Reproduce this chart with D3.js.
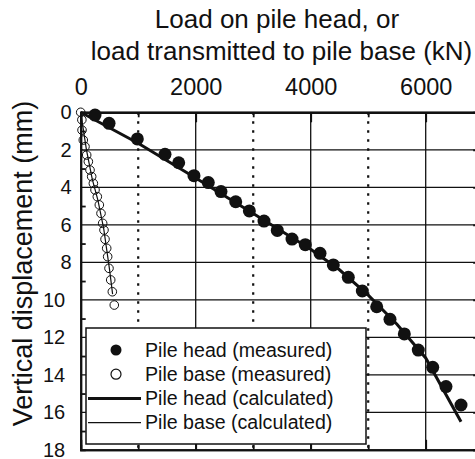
<!DOCTYPE html>
<html>
<head>
<meta charset="utf-8">
<script src="https://cdn.jsdelivr.net/npm/d3@7"></script>
<style>
  body { margin: 0; background: #fff; }
  svg { display: block; }
  text { font-family: "Liberation Sans", Arial, sans-serif; fill: #111; }
</style>
</head>
<body>
<svg width="475" height="459"></svg>
<script>
// measured pile head
const headLoad = [249,493,985,1466,1704,1970,2219,2440,2696,2933,3188,3419,3675,3906,4162,4393,4654,4898,5148,5379,5628,5871,6122,6353,6614]
const headDisp = [0.15,0.59,1.42,2.24,2.69,3.38,3.75,4.23,4.77,5.26,5.80,6.30,6.76,7.06,7.52,8.14,8.80,9.53,10.37,11.04,11.82,12.68,13.60,14.63,15.61]
// measured pile base
const baseLoad = [0,20,23,45,75,104,133,162,191,220,249,289,324,353,382,405,423,452,469,492,522,550,584]
const baseDisp = [0,0.4,0.95,1.48,1.83,2.28,2.63,3.08,3.43,3.79,4.14,4.5,4.94,5.39,5.92,6.28,6.77,7.25,7.7,8.32,8.94,9.57,10.28]
// calculated curves
const calcHeadLoad = [0,1000,2000,3000,4000,4500,5000,5500,6000,6614]
const calcHeadDisp = [0,1.65,3.5,5.4,7.3,8.4,9.75,11.3,13.1,16.5]
const calcBaseLoad = [0,100,200,300,400,500,555]
const calcBaseDisp = [0,2.0,3.55,4.7,6.2,8.35,9.7]

const xTicks = [0,2000,4000,6000]
const xMinor = [1000,3000,5000]
const yTicks = [0,2,4,6,8,10,12,14,16,18]
const yMinor = [1,3,5,7,9,11,13,15,17]
const legendItems = ["Pile head (measured)","Pile base (measured)","Pile head (calculated)","Pile base (calculated)"]

const svg = d3.select("svg")
const x = d3.scaleLinear().domain([0,7000]).range([80.7,483.2])
const y = d3.scaleLinear().domain([0,18]).range([112.3,449.8])
const [x0,x1] = x.range(), [y0,y1] = y.range()

// grid
const grid = svg.append("g").attr("stroke","#111").attr("fill","none")
grid.selectAll(".hg").data(yTicks.filter(d=>d>0 && d<18)).join("line")
  .attr("x1",x0).attr("x2",x1).attr("y1",d=>y(d)).attr("y2",d=>y(d)).attr("stroke-width",1.3)
grid.selectAll(".vg").data(xTicks.filter(d=>d>0)).join("line")
  .attr("x1",d=>x(d)).attr("x2",d=>x(d)).attr("y1",y0).attr("y2",y1).attr("stroke-width",1.3)
grid.selectAll(".vd").data(xMinor).join("line")
  .attr("x1",d=>x(d)).attr("x2",d=>x(d)).attr("y1",y0).attr("y2",y1)
  .attr("stroke-width",2.2).attr("stroke-dasharray","2.5,6.5")

// axes frame + ticks
const axes = svg.append("g")
const topLabels = axes.append("g").attr("transform",`translate(0,${y0})`)
  .call(d3.axisTop(x).tickValues(xTicks).tickSize(0).tickPadding(17.5).tickFormat(d3.format("d")))
topLabels.attr("font-size",23.5)
axes.append("g").attr("transform",`translate(0,${y0})`)
  .call(d3.axisBottom(x).tickValues(xTicks).tickSize(10).tickFormat(""))
axes.append("g").attr("transform",`translate(0,${y0})`)
  .call(d3.axisBottom(x).tickValues(xMinor).tickSize(5).tickFormat(""))
axes.append("g").attr("transform",`translate(0,${y1})`)
  .call(d3.axisTop(x).tickValues(xTicks).tickSize(10).tickFormat(""))
axes.append("g").attr("transform",`translate(0,${y1})`)
  .call(d3.axisTop(x).tickValues(xMinor).tickSize(5).tickFormat(""))
const leftLabels = axes.append("g").attr("transform",`translate(${x0},0)`)
  .call(d3.axisLeft(y).tickValues(yTicks).tickSize(0).tickPadding(9))
leftLabels.attr("font-size",20)
leftLabels.selectAll("text").attr("dx", d => d>=10 ? -6.5 : 0)
axes.append("g").attr("transform",`translate(${x0},0)`)
  .call(d3.axisRight(y).tickValues(yMinor).tickSize(5).tickFormat(""))
axes.append("g").attr("transform",`translate(${x1},0)`)
  .call(d3.axisLeft(y).tickValues(yTicks).tickSize(10).tickFormat(""))
axes.selectAll("g").attr("font-family",'"Liberation Sans", Arial, sans-serif')
axes.selectAll(".domain").attr("stroke","#111").attr("stroke-width",2)
axes.selectAll(".tick line").attr("stroke","#111").attr("stroke-width",1.8)
axes.selectAll(".tick text").attr("fill","#111")

// data
const line = d3.line().x(d=>x(d[0])).y(d=>y(d[1]))
svg.append("path").datum(calcBaseLoad.map((v,i)=>[v,calcBaseDisp[i]]))
  .attr("d",line).attr("fill","none").attr("stroke","#111").attr("stroke-width",1.2)
svg.append("g").selectAll("circle").data(baseLoad.map((v,i)=>[v,baseDisp[i]])).join("circle")
  .attr("cx",d=>x(d[0])).attr("cy",d=>y(d[1])).attr("r",4.3)
  .attr("fill","none").attr("stroke","#111").attr("stroke-width",1)
svg.append("path").datum(calcHeadLoad.map((v,i)=>[v,calcHeadDisp[i]]))
  .attr("d",line).attr("fill","none").attr("stroke","#111").attr("stroke-width",3)
svg.append("g").selectAll("circle").data(headLoad.map((v,i)=>[v,headDisp[i]])).join("circle")
  .attr("cx",d=>x(d[0])).attr("cy",d=>y(d[1])).attr("r",6.5).attr("fill","#111")

// legend
const lg = svg.append("g")
lg.append("rect").attr("x",86).attr("y",328).attr("width",280).attr("height",116)
  .attr("fill","#fff").attr("stroke","#111").attr("stroke-width",1.5)
const rows = lg.selectAll(".row").data(legendItems).join("g")
  .attr("transform",(d,i)=>`translate(0,${350+i*24.2})`)
rows.append("text").attr("x",145).attr("dy","0.35em").style("font-size","19.6px").text(d=>d)
rows.filter((d,i)=>i===0).append("circle").attr("cx",116).attr("r",5.5).attr("fill","#111")
rows.filter((d,i)=>i===1).append("circle").attr("cx",116).attr("r",5).attr("fill","none").attr("stroke","#111").attr("stroke-width",1.2)
rows.filter((d,i)=>i===2).append("line").attr("x1",88).attr("x2",141).attr("stroke","#111").attr("stroke-width",3)
rows.filter((d,i)=>i===3).append("line").attr("x1",88).attr("x2",141).attr("stroke","#111").attr("stroke-width",1.2)

// titles
svg.append("text").attr("x",277).attr("y",28).attr("text-anchor","middle").style("font-size","26px").text("Load on pile head, or")
svg.append("text").attr("x",281.5).attr("y",60).attr("text-anchor","middle").style("font-size","26px").text("load transmitted to pile base (kN)")
svg.append("text").attr("transform","translate(32,263.5) rotate(-90)").attr("text-anchor","middle").style("font-size","27px").text("Vertical displacement (mm)")
</script>
</body>
</html>
